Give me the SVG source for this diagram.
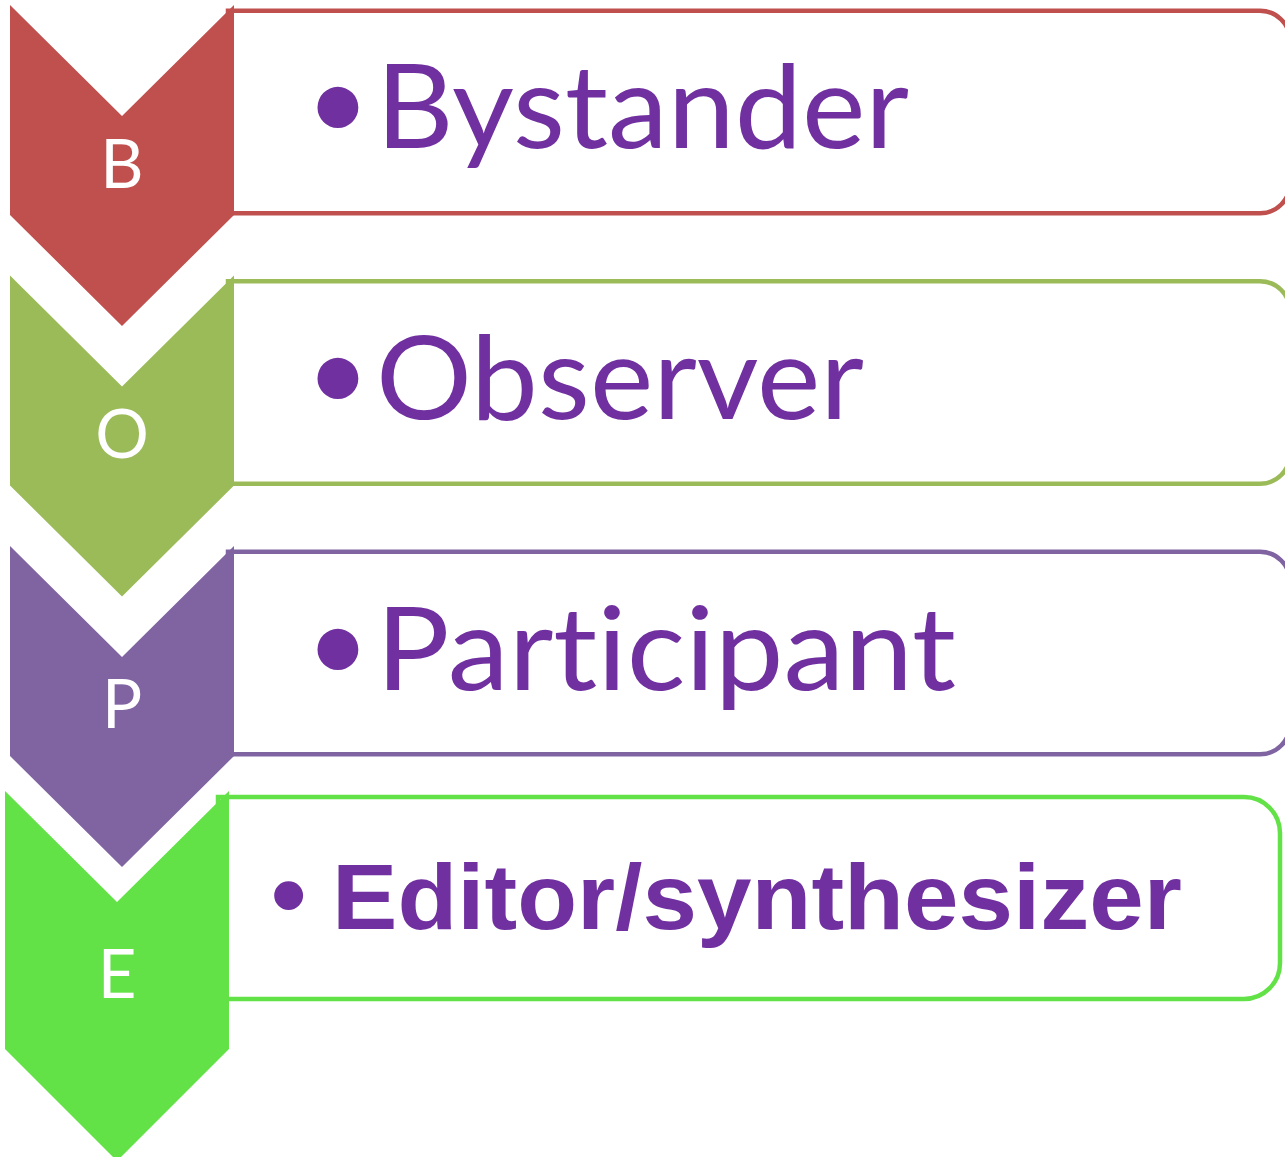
<svg xmlns="http://www.w3.org/2000/svg" width="1285" height="1157" viewBox="0 0 1285 1157">
<style>
.box{fill:#FFFFFF;stroke-width:4.5}
.lbl{font-family:Lato,"Noto Sans",sans-serif;font-size:67px;fill:#FFFFFF;text-anchor:middle}
.t{font-family:Lato,"Noto Sans",sans-serif;font-size:116px;fill:#7030A0;font-variant-ligatures:none;font-feature-settings:"liga" 0,"clig" 0}
.bul{font-size:110px}
.tb{font-family:"Liberation Sans",Arial,sans-serif;font-weight:bold;font-size:92px;fill:#7030A0}
.bulb{font-size:101px}
</style>
<rect width="1285" height="1157" fill="#FFFFFF"/>
<g id="connectors"></g>
<g id="row-b">
<path class="box" stroke="#C0504D" d="M228 10.7H1260A30 30 0 0 1 1290 40.7V183.3A30 30 0 0 1 1260 213.3H228Z"/>
<path fill="#C0504D" d="M10 5L122 116L234 5V215L122 326L10 215Z"/>
<text class="lbl" x="122" y="188">B</text>
<text class="t"><tspan class="bul" x="306" y="140">•</tspan><tspan x="376" y="148.3" textLength="533" lengthAdjust="spacingAndGlyphs">Bystander</tspan></text>
</g>
<g id="row-o">
<path class="box" stroke="#9BBB59" d="M228 281.2H1260A30 30 0 0 1 1290 311.2V453.8A30 30 0 0 1 1260 483.8H228Z"/>
<path fill="#9BBB59" d="M10 275.5L122 386.5L234 275.5V485.5L122 596.5L10 485.5Z"/>
<text class="lbl" x="122" y="458">O</text>
<text class="t"><tspan class="bul" x="306" y="410.5">•</tspan><tspan x="376" y="419" textLength="488" lengthAdjust="spacingAndGlyphs">Observer</tspan></text>
</g>
<g id="row-p">
<path class="box" stroke="#8064A2" d="M228 551.7H1260A30 30 0 0 1 1290 581.7V724.3A30 30 0 0 1 1260 754.3H228Z"/>
<path fill="#8064A2" d="M10 546L122 657L234 546V756L122 867L10 756Z"/>
<text class="lbl" x="122" y="728">P</text>
<text class="t"><tspan class="bul" x="306" y="681.5">•</tspan><tspan x="376" y="689.5" textLength="580" lengthAdjust="spacingAndGlyphs">Participant</tspan></text>
</g>
<g id="row-e">
<path class="box" stroke="#62E247" d="M218 797H1244A36 36 0 0 1 1280 833V963A36 36 0 0 1 1244 999H218Z"/>
<path fill="#62E247" d="M5 791L117 902L229 791V1049L117 1161L5 1049Z"/>
<text class="lbl" x="117" y="998">E</text>
<text class="tb" y="929"><tspan class="bulb" x="271">•</tspan> <tspan x="332" textLength="850" lengthAdjust="spacingAndGlyphs">Editor/synthesizer</tspan></text>
</g>
</svg>
